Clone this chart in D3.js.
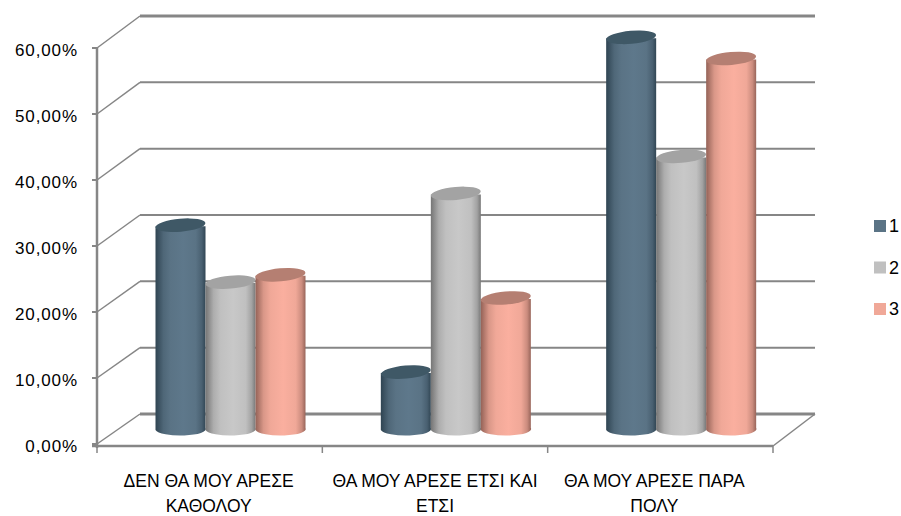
<!DOCTYPE html>
<html><head><meta charset="utf-8">
<script src="https://cdnjs.cloudflare.com/ajax/libs/d3/7.8.5/d3.min.js"></script>
<style>html,body{margin:0;background:#fff}svg{display:block}text{font-family:"Liberation Sans",sans-serif;fill:#000}</style>
</head><body><svg id="c" width="901" height="516"></svg>
<script>
const categories = [["ΔΕΝ ΘΑ ΜΟΥ ΑΡΕΣΕ","ΚΑΘΟΛΟΥ"],["ΘΑ ΜΟΥ ΑΡΕΣΕ ΕΤΣΙ ΚΑΙ","ΕΤΣΙ"],["ΘΑ ΜΟΥ ΑΡΕΣΕ ΠΑΡΑ","ΠΟΛΥ"]];
const seriesNames = ["1","2","3"];
const series1 = [30.8, 8.6, 59.2];
const series2 = [22.2, 35.6, 41.2];
const series3 = [23.3, 19.8, 56.0];
const yTicks = [0,10,20,30,40,50,60];
const baseColors = ["#5a7385","#c0c0c0","#f0a898"];
const darkColors = ["#2f4452","#757575","#946257"];
const topColors = ["#3f5866","#a3a3a3","#b57f72"];
const labelNudge = [-1,0,-6];

const svg = d3.select("#c");
const yFront = d3.scaleLinear().domain([0,60]).range([444,48]);
const yBack = d3.scaleLinear().domain([0,60]).range([414,16]);
const yBar = d3.scaleLinear().domain([0,60]).range([430,33]);
const xFront = d3.scaleBand().domain(d3.range(categories.length)).range([97,773]);
const xSeries = d3.scaleBand().domain(d3.range(3)).range([58.5,208.5]);
const grid = "#868686";

const defs = svg.append("defs");
baseColors.forEach((c,i)=>{
  const g = defs.append("linearGradient").attr("id","g"+i);
  [[0,darkColors[i]],[.16,d3.interpolateRgb(darkColors[i],c)(.75)],[.3,c],[.55,d3.color(c).brighter(.12)],[.8,c],[.92,d3.interpolateRgb(darkColors[i],c)(.6)],[1,darkColors[i]]].forEach(s=>g.append("stop").attr("offset",s[0]).attr("stop-color",s[1]));
});

yTicks.forEach(t=>{
  const w = t===60||t===0?3:2;
  svg.append("line").attr("x1",140).attr("x2",815).attr("y1",yBack(t)).attr("y2",yBack(t)).attr("stroke",grid).attr("stroke-width",w);
  svg.append("line").attr("x1",97).attr("x2",140).attr("y1",yFront(t)).attr("y2",yBack(t)).attr("stroke",grid).attr("stroke-width",1.5);
  svg.append("line").attr("x1",92).attr("x2",97).attr("y1",yFront(t)).attr("y2",yFront(t)).attr("stroke",grid).attr("stroke-width",2);
  svg.append("text").attr("x",78).attr("y",yFront(t)+8).attr("text-anchor","end").attr("font-size",17).attr("letter-spacing",.9).text(d3.format(".2f")(t).replace(".",",")+"%");
});
svg.append("line").attr("x1",97).attr("x2",97).attr("y1",yFront(60)).attr("y2",448).attr("stroke",grid).attr("stroke-width",2.5);
svg.append("line").attr("x1",92).attr("x2",773).attr("y1",446).attr("y2",446).attr("stroke",grid).attr("stroke-width",2.5);
svg.append("line").attr("x1",773).attr("x2",815).attr("y1",446).attr("y2",414).attr("stroke",grid).attr("stroke-width",1.5);
d3.range(categories.length+1).forEach(k=>{
  const x = 97+k*xFront.bandwidth();
  svg.append("line").attr("x1",x).attr("x2",x).attr("y1",446).attr("y2",453).attr("stroke",grid).attr("stroke-width",1.5);
});

const allSeries = [series1,series2,series3];
categories.forEach((c,i)=>{
  allSeries.forEach((vals,s)=>{
    const x0 = xFront(i)+xSeries(s), w = xSeries.bandwidth(), cx=x0+w/2, rx=w/2, ry=6.5;
    const yt = yBar(vals[i]), yb = yBar(0);
    svg.append("path").attr("d",`M${x0},${yt}L${x0},${yb}A${rx},${ry} 0 0 0 ${x0+w},${yb-2}L${x0+w},${yt}Z`).attr("fill",`url(#g${s})`);
    svg.append("ellipse").attr("cx",cx).attr("cy",yt-1).attr("rx",rx).attr("ry",ry).attr("transform",`rotate(-5 ${cx} ${yt-1})`).attr("fill",topColors[s]);
  });
  c.forEach((l,k)=>{
    svg.append("text").attr("x",xFront(i)+xFront.bandwidth()/2+labelNudge[i]).attr("y",487+k*25).attr("text-anchor","middle").attr("font-size",17.5).text(l);
  });
});

const yLegend = d3.scalePoint().domain(seriesNames).range([226,309]);
seriesNames.forEach((n,i)=>{
  svg.append("rect").attr("x",874).attr("y",yLegend(n)-6).attr("width",12).attr("height",12).attr("fill",baseColors[i]);
  svg.append("text").attr("x",889).attr("y",yLegend(n)+6).attr("font-size",18).text(n);
});
</script></body></html>
